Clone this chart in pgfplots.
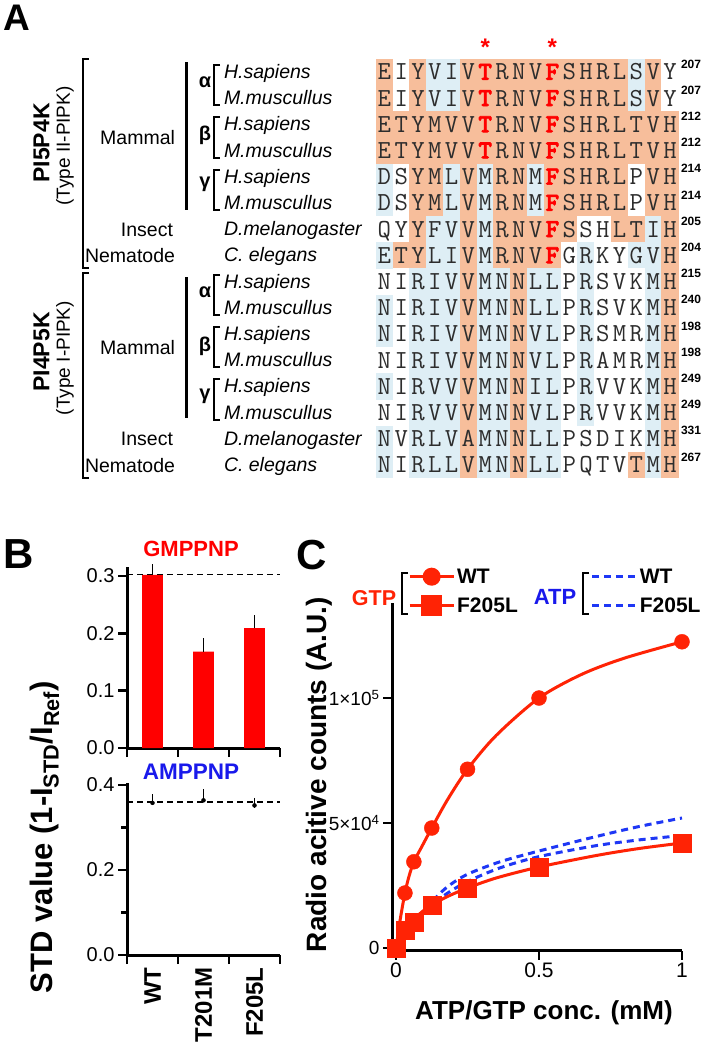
\documentclass[border=0pt]{standalone}
\usepackage{pgfplots}
\pgfplotsset{compat=1.18}
\usepackage{fontspec}
\setmainfont{Liberation Sans}
\newfontfamily\lmbold{lmmonolt10-bold.otf}[FakeBold=2.5]
\definecolor{agray}{RGB}{45,45,45}
\definecolor{bred}{RGB}{255,0,0}
\definecolor{cred}{RGB}{255,35,5}
\definecolor{cblue}{RGB}{30,55,245}
\definecolor{tblue}{RGB}{25,25,235}
\newcommand\fs[1]{\fontsize{#1}{#1}\selectfont}
\newcommand\RD[1]{\textcolor{red}{\lmbold #1}}
\newcommand\alrow[2]{%
 \foreach \ch [count=\c] in {#2} {%
  \node[t, anchor=base, text=agray, font=\ttfamily\fs{26}] at ({376+16.8*(\c-0.5)}, {-(72+26.2*(#1-1))-7.8}) {\ch};}}
\pgfdeclareplotmark{cell}{\pgfpathrectangle{\pgfpoint{-8.6pt}{-13.3pt}}{\pgfpoint{17.2pt}{26.6pt}}\pgfusepathqfill}
\begin{document}
\begin{tikzpicture}[x=1pt,y=1pt, t/.style={inner sep=0pt, outer sep=0pt}]
\useasboundingbox (0,0) rectangle (707,-1050);
% ---------------- Panel A: alignment background ----------------
\begin{axis}[at={(376pt,-478.1pt)}, anchor=south west, scale only axis, width=302.4pt, height=419.2pt,
  xmin=0.5, xmax=18.5, ymin=0.5, ymax=16.5, y dir=reverse, hide axis, clip=false,
  colormap={aln}{rgb255=(255,255,255) rgb255=(222,238,245) rgb255=(247,190,155)},
  point meta min=0, point meta max=2]
\addplot[scatter, only marks, mark=cell, point meta=explicit,
  scatter/use mapped color={fill=mapped color, draw=none}]
 table[header=false, row sep=\\, x expr={mod(\coordindex,18)+1}, y expr={int(\coordindex/18)+1}, meta index=0] {
2\\0\\2\\1\\1\\2\\2\\2\\2\\2\\2\\2\\2\\2\\2\\1\\2\\0\\
2\\0\\2\\1\\1\\2\\2\\2\\2\\2\\2\\2\\2\\2\\2\\1\\2\\0\\
2\\2\\2\\2\\2\\2\\2\\2\\2\\2\\2\\2\\2\\2\\2\\2\\2\\2\\
2\\2\\2\\2\\2\\2\\2\\2\\2\\2\\2\\2\\2\\2\\2\\2\\2\\2\\
1\\0\\2\\2\\1\\2\\1\\2\\2\\1\\2\\2\\2\\2\\2\\0\\2\\2\\
1\\0\\2\\2\\1\\2\\1\\2\\2\\1\\2\\2\\2\\2\\2\\0\\2\\2\\
1\\0\\2\\1\\1\\2\\1\\2\\2\\2\\2\\2\\0\\0\\2\\2\\1\\2\\
2\\2\\2\\1\\1\\2\\1\\2\\2\\2\\2\\0\\1\\0\\0\\1\\1\\2\\
1\\0\\1\\1\\1\\2\\1\\1\\2\\1\\1\\0\\1\\0\\0\\0\\1\\2\\
1\\0\\1\\1\\1\\2\\1\\1\\2\\1\\1\\0\\1\\0\\0\\0\\1\\2\\
1\\0\\1\\1\\1\\2\\1\\1\\2\\1\\1\\0\\1\\0\\0\\0\\1\\2\\
1\\0\\1\\1\\1\\2\\1\\1\\2\\1\\1\\0\\1\\0\\0\\0\\1\\2\\
1\\0\\1\\1\\1\\2\\1\\1\\2\\1\\1\\0\\1\\0\\0\\0\\1\\2\\
1\\0\\1\\1\\1\\2\\1\\1\\2\\1\\1\\0\\1\\0\\0\\0\\1\\2\\
1\\0\\1\\1\\1\\2\\1\\1\\2\\1\\1\\0\\0\\0\\0\\0\\1\\2\\
1\\0\\1\\1\\1\\2\\1\\1\\2\\1\\1\\0\\0\\0\\0\\2\\1\\2\\
};
\end{axis}
% letters
\alrow{1}{E,I,Y,V,I,V,\RD{T},R,N,V,\RD{F},S,H,R,L,S,V,Y}
\alrow{2}{E,I,Y,V,I,V,\RD{T},R,N,V,\RD{F},S,H,R,L,S,V,Y}
\alrow{3}{E,T,Y,M,V,V,\RD{T},R,N,V,\RD{F},S,H,R,L,T,V,H}
\alrow{4}{E,T,Y,M,V,V,\RD{T},R,N,V,\RD{F},S,H,R,L,T,V,H}
\alrow{5}{D,S,Y,M,L,V,M,R,N,M,\RD{F},S,H,R,L,P,V,H}
\alrow{6}{D,S,Y,M,L,V,M,R,N,M,\RD{F},S,H,R,L,P,V,H}
\alrow{7}{Q,Y,Y,F,V,V,M,R,N,V,\RD{F},S,S,H,L,T,I,H}
\alrow{8}{E,T,Y,L,I,V,M,R,N,V,\RD{F},G,R,K,Y,G,V,H}
\alrow{9}{N,I,R,I,V,V,M,N,N,L,L,P,R,S,V,K,M,H}
\alrow{10}{N,I,R,I,V,V,M,N,N,L,L,P,R,S,V,K,M,H}
\alrow{11}{N,I,R,I,V,V,M,N,N,V,L,P,R,S,M,R,M,H}
\alrow{12}{N,I,R,I,V,V,M,N,N,V,L,P,R,A,M,R,M,H}
\alrow{13}{N,I,R,V,V,V,M,N,N,I,L,P,R,V,V,K,M,H}
\alrow{14}{N,I,R,V,V,V,M,N,N,V,L,P,R,V,V,K,M,H}
\alrow{15}{N,V,R,L,V,A,M,N,N,L,L,P,S,D,I,K,M,H}
\alrow{16}{N,I,R,L,L,V,M,N,N,L,L,P,Q,T,V,T,M,H}
% residue numbers
\foreach \r/\n in {1/207,2/207,3/212,4/212,5/214,6/214,7/205,8/204,9/215,10/240,11/198,12/198,13/249,14/249,15/331,16/267}
  \node[t, anchor=base west, font=\bfseries\fs{12}] at (681,{-(72+26.2*(\r-1))+4}) {\n};
% asterisks
\node[t, anchor=base, font=\bfseries\fs{24}, text=red] at (485.2,-55) {*};
\node[t, anchor=base, font=\bfseries\fs{24}, text=red] at (552.4,-55) {*};
% left labels
\node[t, anchor=base west, font=\bfseries\fs{37}] at (3,-30) {A};
\node[t, rotate=90, font=\bfseries\fs{23}] at (41.5,-143) {PI5P4K};
\node[t, rotate=90, font=\fs{19}] at (65,-146) {(Type II-PIPK)};
\node[t, rotate=90, font=\bfseries\fs{23}] at (41.5,-352) {PI4P5K};
\node[t, rotate=90, font=\fs{19}] at (65,-358) {(Type I-PIPK)};
\draw[line width=2.5pt] (89,-59) -- (83,-59) -- (83,-268) -- (89,-268);
\draw[line width=2.5pt] (89,-273) -- (83,-273) -- (83,-478) -- (89,-478);
\draw[line width=3pt] (186,-62) -- (186,-210);
\draw[line width=3pt] (186,-277) -- (186,-418);
\node[t, anchor=base east, font=\fs{19.5}] at (175,-144.5) {Mammal};
\node[t, anchor=base east, font=\fs{19.5}] at (173,-236.2) {Insect};
\node[t, anchor=base east, font=\fs{19.5}] at (175,-262.4) {Nematode};
\node[t, anchor=base east, font=\fs{19.5}] at (175,-354.3) {Mammal};
\node[t, anchor=base east, font=\fs{19.5}] at (173,-445.8) {Insect};
\node[t, anchor=base east, font=\fs{19.5}] at (175,-472) {Nematode};
\foreach \r in {1,3,5,9,11,13}
  \draw[line width=2pt] (220,{-(72+26.2*(\r-1))+7}) -- (214,{-(72+26.2*(\r-1))+7}) -- (214,{-(72+26.2*\r)-7}) -- (220,{-(72+26.2*\r)-7});
\node[t, font=\bfseries\fs{20}] at (205,-82) {α};
\node[t, font=\bfseries\fs{20}] at (205,-135) {β};
\node[t, font=\bfseries\fs{20}] at (205,-184) {γ};
\node[t, font=\bfseries\fs{20}] at (205,-292) {α};
\node[t, font=\bfseries\fs{20}] at (205,-346) {β};
\node[t, font=\bfseries\fs{20}] at (205,-396) {γ};
\foreach \r/\s in {1/H.sapiens,2/M.muscullus,3/H.sapiens,4/M.muscullus,5/H.sapiens,6/M.muscullus,7/D.melanogaster,8/C. elegans,9/H.sapiens,10/M.muscullus,11/H.sapiens,12/M.muscullus,13/H.sapiens,14/M.muscullus,15/D.melanogaster,16/C. elegans}
  \node[t, anchor=base west, font=\itshape\fs{19.5}] at (224,{-(72+26.2*(\r-1))-6.5}) {\s};
% ---------------- Panel B ----------------
\node[t, anchor=base west, font=\bfseries\fs{42}] at (4,-568) {B};
\node[t, anchor=base, font=\bfseries\fs{22}, text=bred] at (191,-556) {GMPPNP};
\node[t, anchor=base, font=\bfseries\fs{22.5}, text=tblue] at (191,-779) {AMPPNP};
\node[t, anchor=west, rotate=90, font=\bfseries\fs{31}] at (44.5,-993) {STD value (1-I\textsubscript{STD}/I\textsubscript{Ref})};
\begin{axis}[at={(127pt,-748pt)}, anchor=south west, scale only axis, width=153pt, height=180.6pt,
 xmin=-0.5, xmax=2.5, ymin=0, ymax=0.315,
 axis lines=left, axis line style={-, line width=3pt},
 xtick={-0.5,0.5,1.5,2.5}, xticklabels={},
 ytick={0,0.1,0.2,0.3}, yticklabels={0.0,0.1,0.2,0.3},
 tick align=outside, major tick length=9pt, tick style={line width=2.5pt, black},
 yticklabel style={font=\fs{20}}, clip=false]
\addplot[ybar, bar width=0.41, fill=bred, draw=none,
  error bars/.cd, y dir=plus, y explicit, error bar style={line width=1.5pt, black},
  error mark options={mark size=5pt, line width=1.5pt, black}]
  coordinates {(0,0.302) +- (0,0.010) (1,0.168) +- (0,0.015) (2,0.209) +- (0,0.014)};
\addplot[black, line width=1.2pt, dash pattern=on 6pt off 4pt] coordinates {(-0.5,0.302) (2.5,0.302)};
\end{axis}
\begin{axis}[at={(127pt,-955pt)}, anchor=south west, scale only axis, width=153pt, height=172.1pt,
 xmin=-0.5, xmax=2.5, ymin=0, ymax=0.405,
 axis lines=left, axis line style={-, line width=3pt},
 xtick={-0.5,0.5,1.5,2.5}, xticklabels={},
 extra x ticks={0,1,2}, extra x tick labels={WT,T201M,F205L},
 extra x tick style={major tick length=0pt, tick style={draw=none}, xticklabel style={yshift=-9pt, rotate=90, anchor=east, font=\bfseries\fs{24}}},
 ytick={0,0.2,0.4}, yticklabels={0.0,0.2,0.4}, minor ytick={0.1,0.3},
 tick align=outside, major tick length=9pt, minor tick length=6pt, tick style={line width=2.5pt, black},
 yticklabel style={font=\fs{20}}, clip=false]
\addplot[only marks, mark=none,
  error bars/.cd, y dir=plus, y explicit, error bar style={line width=1.5pt, black},
  error mark options={mark size=5pt, line width=1.5pt, black}]
  coordinates {(0,0.358) +- (0,0.008) (1,0.364) +- (0,0.014) (2,0.352) +- (0,0.006)};
\addplot[black, line width=1.2pt, dash pattern=on 6pt off 4pt] coordinates {(-0.5,0.36) (2.5,0.36)};
\end{axis}
% ---------------- Panel C ----------------
\node[t, anchor=base west, font=\bfseries\fs{42}] at (296,-569) {C};
\node[t, anchor=base, font=\bfseries\fs{21.5}, text=cred] at (374,-605) {GTP};
\draw[line width=2.5pt] (408,-573) -- (402,-573) -- (402,-614) -- (408,-614);
\node[t, anchor=base, font=\bfseries\fs{22}, text=tblue] at (555,-604) {ATP};
\draw[line width=2.5pt] (589,-573) -- (583,-573) -- (583,-614) -- (589,-614);
\node[t, anchor=west, rotate=90, font=\bfseries\fs{28}] at (319,-952) {Radio acitive counts (A.U.)};
\node[t, anchor=base, font=\bfseries\fs{26}] at (544,-1019) {ATP/GTP conc. (mM)};
\begin{axis}[at={(392pt,-950.5pt)}, anchor=south west, scale only axis, width=290pt, height=347.5pt,
 xmin=-0.014, xmax=1, ymin=-1000, ymax=138000,
 axis lines=left, axis line style={-, line width=3pt},
 tick align=outside, major tick length=9pt, tick style={line width=2.5pt, black},
 xtick={0,0.5,1}, xticklabels={0,0.5,1},
 ytick={0,50000,100000}, yticklabels={0,{5\texttimes10\textsuperscript{4}},{1\texttimes10\textsuperscript{5}}},
 xticklabel style={font=\fs{21}}, yticklabel style={font=\fs{19}},
 scaled y ticks=false, clip=false,
 legend columns=2, legend cell align=left,
 legend style={at={(axis description cs:0.055,1.105)}, anchor=north west, draw=none, fill=none,
   font=\bfseries\fs{21}, inner sep=0pt, nodes={inner sep=2pt}, row sep=9pt,
   /tikz/every even column/.append style={column sep=71pt}},
 legend image code/.code={\draw[#1, mark repeat=2, mark phase=2] plot coordinates {(0pt,0pt) (22pt,0pt) (44pt,0pt)};}]
\addplot[forget plot, cblue, line width=3pt, dash pattern=on 7pt off 5pt, smooth]
 coordinates {(0,0) (0.03,5500) (0.06,10000) (0.09,14000) (0.125,18500) (0.18,24500) (0.25,29500) (0.364,34500) (0.5,38800) (0.7,44600) (0.85,48600) (1,52000)};
\addplot[forget plot, cblue, line width=3pt, dash pattern=on 7pt off 5pt, smooth]
 coordinates {(0,0) (0.03,5320) (0.06,9750) (0.09,13500) (0.125,17200) (0.18,21940) (0.25,26590) (0.364,32070) (0.5,36560) (0.7,40950) (0.85,43240) (1,45000)};
\addplot[forget plot, cred, line width=3pt, smooth]
 coordinates {(0,0) (0.01,8000) (0.02,15000) (0.03125,22000) (0.045,28500) (0.0625,34500) (0.09,40500) (0.125,48000) (0.18,59300) (0.25,71500) (0.35,85000) (0.5,100000) (0.65,109500) (0.8,116000) (1,122500)};
\addplot[forget plot, cred, line width=3pt, smooth]
 coordinates {(0,0) (0.03125,6800) (0.0625,11200) (0.09,14400) (0.125,17200) (0.18,20600) (0.25,24000) (0.35,28000) (0.5,32400) (0.7,37000) (0.85,39800) (1,42000)};
\addplot[forget plot, cred, only marks, mark=*, mark size=7.5pt]
 coordinates {(0,0) (0.03125,22000) (0.0625,34500) (0.125,48000) (0.25,71500) (0.5,100000) (1,122500)};
\addplot[forget plot, cred, only marks, mark=square*, mark size=9pt]
 coordinates {(0,0) (0.03125,7200) (0.0625,10400) (0.125,17200) (0.25,24000) (0.5,32400) (1,42000)};
\addlegendimage{cred, line width=3pt, mark=*, mark size=7.5pt}
\addlegendentry{WT}
\addlegendimage{cblue, line width=3pt, dash pattern=on 7pt off 5pt}
\addlegendentry{WT}
\addlegendimage{cred, line width=3pt, mark=square*, mark size=9pt}
\addlegendentry{F205L}
\addlegendimage{cblue, line width=3pt, dash pattern=on 7pt off 5pt}
\addlegendentry{F205L}
\end{axis}
\end{tikzpicture}
\end{document}
